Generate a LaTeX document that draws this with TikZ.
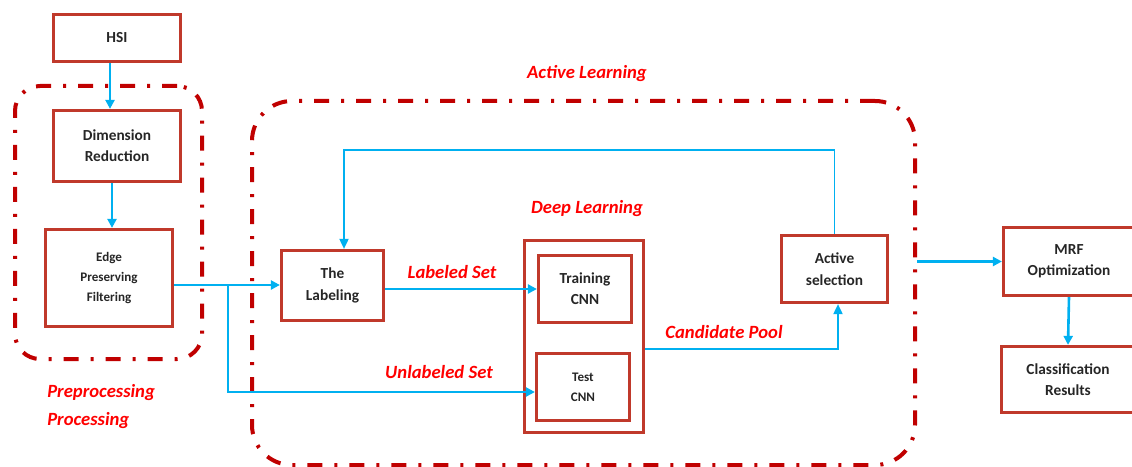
\documentclass[tikz,border=0pt]{standalone}
\usepackage{fontspec}
\setmainfont{Carlito}
\usetikzlibrary{arrows.meta,calc}
\definecolor{boxred}{RGB}{192,57,43}
\definecolor{dashred}{RGB}{192,0,0}
\definecolor{arrowblue}{RGB}{0,176,240}
\definecolor{labred}{RGB}{255,0,0}
\tikzset{
  pbox/.style={draw=boxred, line width=2.4pt, inner sep=0pt, align=center, font=\fontsize{11.5}{16}\selectfont\bfseries, text=black!85},
  smallbox/.style={pbox, font=\fontsize{9.8}{15}\selectfont\bfseries},
  group/.style={draw=dashred, line width=3pt, dash pattern=on 11.25pt off 9pt on 2.25pt off 9pt},
  flow/.style={draw=arrowblue, line width=1.95pt, -{Triangle[length=6.75pt,width=6.75pt]}},
  thinflow/.style={draw=arrowblue, line width=1.35pt, -{Triangle[length=7.5pt,width=6.75pt]}},
  lbl/.style={text=labred, font=\fontsize{14}{17}\selectfont\bfseries\itshape, inner sep=0pt}
}
\begin{document}
\begin{tikzpicture}[x=0.75pt,y=-0.75pt]
\useasboundingbox (0,0) rectangle (1132,467);
\clip (0,0) rectangle (1132,467);
% group frames
\node[group, rounded corners=18.75pt, minimum width=140.25pt, minimum height=204.75pt] (pre) at (108.5,222.5) {};
\node[group, rounded corners=30pt, minimum width=497.25pt, minimum height=273pt] (al) at (583.5,283) {};
% boxes
\node[pbox, minimum width=95.25pt, minimum height=35.25pt] (hsi) at (117,38) {HSI};
\node[pbox, minimum width=95.25pt, minimum height=53.25pt] (dr) at (117,146) {Dimension\\Reduction};
\node[smallbox, minimum width=95.25pt, minimum height=72.75pt] (epf) at (109,278) {Edge\\Preserving\\Filtering};
\node[pbox, minimum width=76.5pt, minimum height=52.5pt] (lab) at (332.5,285.5) {The\\Labeling};
\node[pbox, minimum width=89.25pt, minimum height=144pt] (dl) at (584,336.5) {};
\node[pbox, minimum width=69.75pt, minimum height=50.25pt] (train) at (585,289) {Training\\CNN};
\node[smallbox, minimum width=69.75pt, minimum height=50.25pt] (test) at (583,387) {Test\\CNN};
\node[pbox, minimum width=79.5pt, minimum height=50.25pt] (act) at (834.5,269) {Active\\selection};
\node[pbox, minimum width=98.25pt, minimum height=51pt] (mrf) at (1069,261.5) {MRF\\Optimization};
\node[pbox, minimum width=99.75pt, minimum height=49.5pt] (cls) at (1068,379.5) {Classification\\Results};
% labels
\node[lbl] (tal) at (587,74) {Active Learning};
\node[lbl] (tdl) at (587,209) {Deep Learning};
\node[lbl] (tls) at (452,272) {Labeled Set};
\node[lbl] (tus) at (439,372) {Unlabeled Set};
\node[lbl] (tcp) at (724,332) {Candidate Pool};
\node[lbl, anchor=west] (tpre) at (47,393) {Preprocessing};
\node[lbl, anchor=west] (tproc) at (47,421) {Processing};
% connectors
\draw[flow] ($(hsi.south)+(-7,0)$) -- ($(dr.north)+(-7,0)$);
\draw[flow] ($(dr.south)+(-5,0)$) -- ($(epf.north)+(3,0)$);
\coordinate (br) at (228,285);
\draw[flow] ($(epf.east)+(0,7)$) -- (lab.west |- br);
\draw[flow] (br) |- ($(test.west)+(0,5)$);
\draw[flow] (lab.east |- train.west) -- (train.west);
\coordinate (fb) at (344,150);
\draw[thinflow] (act.north) |- (fb) -- (fb |- lab.north);
\coordinate (cp) at (838,349);
\draw[thinflow] (dl.east |- cp) -- (cp) -- (cp |- act.south);
\draw[flow] (al.east |- mrf.west) -- (mrf.west);
\draw[flow] (mrf.south) -- (cls.north);
\end{tikzpicture}
\end{document}
